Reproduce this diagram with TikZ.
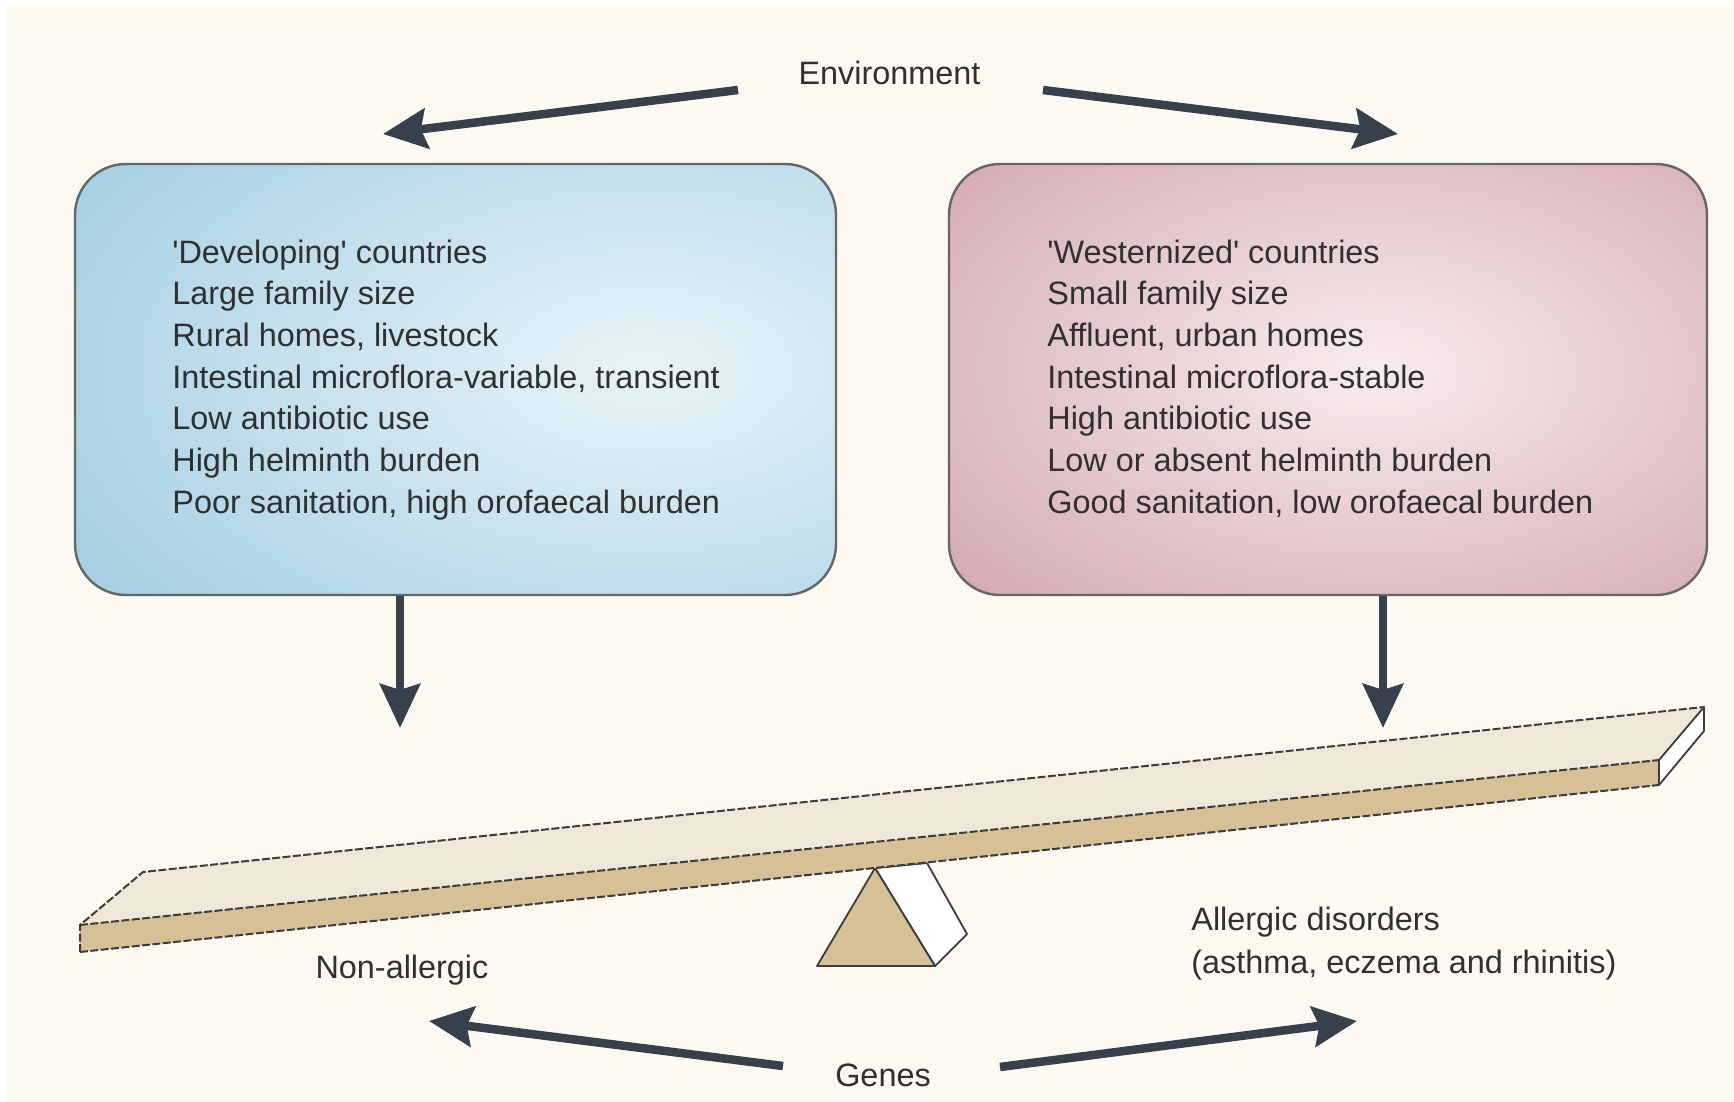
\documentclass[tikz,border=0pt]{standalone}
\usepackage{fontspec}
\setmainfont{Liberation Sans}
\usetikzlibrary{arrows.meta}
\definecolor{cream}{HTML}{FCF9F2}
\definecolor{arrowc}{HTML}{36414B}
\definecolor{txtc}{HTML}{303030}
\definecolor{blueE}{HTML}{9ACAE0}
\definecolor{blueC}{HTML}{E8F3F8}
\definecolor{pinkE}{HTML}{C8959E}
\definecolor{pinkC}{HTML}{F8ECEE}
\definecolor{boxline}{HTML}{666666}
\definecolor{beamtop}{HTML}{EFE7D8}
\definecolor{tan}{HTML}{D6C196}
\definecolor{edgec}{HTML}{3C3C3C}
\begin{document}
\begin{tikzpicture}[x=0.5pt,y=-0.5pt,
  bigarrow/.style={line width=4.25pt, draw=arrowc, -{Stealth[length=22pt, width=20pt, inset=3pt]}},
  lbl/.style={font=\fontsize{16.2}{20}\selectfont, text=txtc, inner sep=0pt},
  boxtext/.style={lbl, anchor=base west},
  infobox/.style={draw=boxline, line width=1.2pt, rounded corners=25.5pt, inner sep=0pt},
  beamedge/.style={draw=edgec, line width=1pt, dash pattern=on 4pt off 1.2pt, line join=round},
  fulcedge/.style={draw=edgec, line width=0.9pt, line join=round}]
\useasboundingbox (0,0) rectangle (1734,1102);
\fill[white] (0,0) rectangle (1734,1102);
\fill[cream] (7,5) rectangle (1734,1102);

% boxes
\node[infobox, minimum width=380.5pt, minimum height=215.5pt,
  path picture={\fill[blueE] (path picture bounding box.south west) rectangle (path picture bounding box.north east);
    \shade[inner color=blueC, outer color=blueE] ([shift={(190,-10)}]path picture bounding box.center) circle[x radius=390pt, y radius=215pt];}]
  (devbox) at (455.5,379.5) {};
\node[infobox, minimum width=379pt, minimum height=215.5pt,
  path picture={\fill[pinkE] (path picture bounding box.south west) rectangle (path picture bounding box.north east);
    \shade[inner color=pinkC, outer color=pinkE] ([shift={(45,-10)}]path picture bounding box.center) circle[x radius=370pt, y radius=215pt];}]
  (westbox) at (1328,379.5) {};

\foreach \t [count=\i] in {{\textquotesingle Developing\textquotesingle{} countries},{Large family size},{Rural homes, livestock},{Intestinal microflora-variable, transient},{Low antibiotic use},{High helminth burden},{Poor sanitation, high orofaecal burden}}
  \node[boxtext] (dev\i) at (172,{263+41.7*(\i-1)}) {\t};
\foreach \t [count=\i] in {{\textquotesingle Westernized\textquotesingle{} countries},{Small family size},{Affluent, urban homes},{Intestinal microflora-stable},{High antibiotic use},{Low or absent helminth burden},{Good sanitation, low orofaecal burden}}
  \node[boxtext] (wst\i) at (1047,{263+41.7*(\i-1)}) {\t};

% labels
\node[lbl, anchor=base] (env) at (889.5,85) {Environment};
\node[lbl, anchor=base] (genes) at (883,1086) {Genes};
\node[lbl, anchor=base] (nonall) at (402,978) {Non-allergic};
\node[boxtext] (all1) at (1191,930) {Allergic disorders};
\node[boxtext] (all2) at (1191,973) {(asthma, eczema and rhinitis)};

% arrow end points
\coordinate (envLt) at (738,90);
\coordinate (envLh) at (383,134);
\coordinate (envRt) at (1043,90);
\coordinate (envRh) at (1398,134);
\coordinate (genLt) at (783,1066);
\coordinate (genLh) at (429,1021);
\coordinate (genRt) at (1000,1067);
\coordinate (genRh) at (1357,1021);
\coordinate (devtip) at (400,728);
\coordinate (wsttip) at (1383,728);

\draw[bigarrow] (envLt) -- (envLh);
\draw[bigarrow] (envRt) -- (envRh);
\draw[bigarrow] (genLt) -- (genLh);
\draw[bigarrow] (genRt) -- (genRh);
\draw[bigarrow] (devbox.south -| devtip) -- (devtip);
\draw[bigarrow] (westbox.south -| wsttip) -- (wsttip);

% fulcrum
\coordinate (fa) at (875,868);
\coordinate (fbl) at (817,966);
\coordinate (fbr) at (935,966);
\coordinate (fs1) at (927,863);
\coordinate (fs2) at (967,934);
\filldraw[fill=white, fulcedge] (fa) -- (fs1) -- (fs2) -- (fbr) -- cycle;
\filldraw[fill=tan, fulcedge] (fa) -- (fbl) -- (fbr) -- cycle;

% beam
\coordinate (FTL) at (80,925);
\coordinate (FBL) at (80,952);
\coordinate (FTR) at (1659,760);
\coordinate (FBR) at (1659,785);
\coordinate (BTL) at (143,872);
\coordinate (BTR) at (1704,707);
\coordinate (BBR) at (1704,731);
\fill[beamtop] (FTL) -- (BTL) -- (BTR) -- (FTR) -- cycle;
\fill[tan] (FTL) -- (FTR) -- (FBR) -- (FBL) -- cycle;
\filldraw[fill=white, fulcedge] (FTR) -- (BTR) -- (BBR) -- (FBR) -- cycle;
\draw[beamedge] (FBL) -- (FTL) -- (BTL) -- (BTR);
\draw[beamedge] (FTL) -- (FTR);
\draw[beamedge] (FBL) -- (FBR);
\draw[fulcedge] (FTR) -- (FBR);
\end{tikzpicture}
\end{document}
